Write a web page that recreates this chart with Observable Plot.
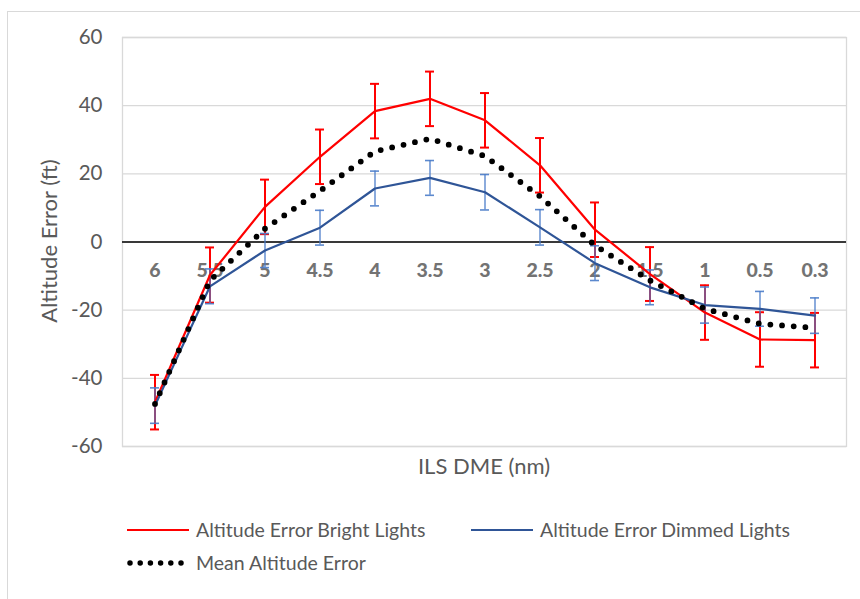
<!DOCTYPE html>
<html>
<head>
<meta charset="utf-8">
<script src="https://cdn.jsdelivr.net/npm/d3@7"></script>
<script src="https://cdn.jsdelivr.net/npm/@observablehq/plot@0.6"></script>
<style>
  html, body { margin: 0; padding: 0; background: #fff; }
  #chart { position: relative; width: 860px; height: 599px; overflow: hidden; font-family: Lato, "Open Sans", sans-serif; color: #595959; }
  #frame { position: absolute; left: 7px; top: 11px; width: 900px; height: 700px; border-left: 1px solid #d9d9d9; border-top: 1px solid #d9d9d9; box-sizing: border-box; }
  #plot { position: absolute; left: 0; top: 0; }
  .legend { position: absolute; font-size: 19.5px; color: #595959; white-space: nowrap; line-height: 1; }
  .legend svg { position: absolute; }
</style>
</head>
<body>
<div id="chart">
  <div id="frame"></div>
  <div id="plot"></div>
</div>
<script>
// ---- data ----
const categories = ["6", "5.5", "5", "4.5", "4", "3.5", "3", "2.5", "2", "1.5", "1", "0.5", "0.3"];
const brightValues = [-47.0, -9.7, 10.3, 25.0, 38.4, 42.0, 35.7, 22.5, 3.6, -9.4, -20.7, -28.6, -28.8];
const brightErrors = [8.0, 8.1, 8.0, 8.0, 8.0, 8.0, 8.0, 8.0, 8.0, 7.9, 8.0, 8.0, 8.0];
const dimmedValues = [-48.0, -13.0, -2.5, 4.2, 15.7, 18.8, 14.6, 4.3, -6.2, -13.3, -18.5, -19.6, -21.6];
const dimmedErrors = [5.2, 5.1, 5.0, 5.1, 5.1, 5.1, 5.2, 5.2, 5.1, 5.1, 5.3, 5.1, 5.2];
const meanValues = [-47.5, -11.3, 3.9, 15.0, 26.6, 30.3, 25.2, 13.4, -1.0, -11.3, -19.6, -24.0, -25.2];
const yTicks = [-60, -40, -20, 0, 20, 40, 60];

const seriesNames = ["Altitude Error Bright Lights", "Altitude Error Dimmed Lights", "Mean Altitude Error"];
const colors = { bright: "#ff0000", dimmed: "#2f5597", dimmedErr: "#4a7cc9", mean: "#000000" };

const bright = categories.map((c, i) => ({ cat: c, v: brightValues[i], lo: brightValues[i] - brightErrors[i], hi: brightValues[i] + brightErrors[i] }));
const dimmed = categories.map((c, i) => ({ cat: c, v: dimmedValues[i], lo: dimmedValues[i] - dimmedErrors[i], hi: dimmedValues[i] + dimmedErrors[i] }));
const mean = categories.map((c, i) => ({ cat: c, v: meanValues[i] }));
const axisRow = categories.map(c => ({ cat: c, v: 0 }));

const capInset = 23;

const plot = Plot.plot({
  width: 860,
  height: 500,
  marginLeft: 122,
  marginRight: 14,
  marginTop: 37,
  marginBottom: 54,
  style: { fontFamily: "Lato, 'Open Sans', sans-serif", background: "transparent" },
  x: { type: "band", domain: categories, padding: 0, axis: null },
  y: { domain: [-60, 60], ticks: yTicks, axis: null },
  marks: [
    Plot.gridY(yTicks, { stroke: "#d9d9d9", strokeOpacity: 1, strokeWidth: 1.3 }),
    Plot.frame({ stroke: "#d9d9d9", strokeWidth: 1.3 }),
    Plot.axisY(yTicks, { tickSize: 0, tickPadding: 20, fontSize: 20.5, fill: "#595959", label: null, tickFormat: d => d }),
    Plot.ruleY([0], { stroke: "#000", strokeWidth: 1.5 }),
    Plot.text(axisRow, { x: "cat", y: "v", text: "cat", dy: 29, fontSize: 19.5, fontWeight: 900, fill: "#737373" }),
    // bright error bars
    Plot.ruleX(bright, { x: "cat", y1: "lo", y2: "hi", stroke: colors.bright, strokeWidth: 2 }),
    Plot.tickY(bright, { x: "cat", y: "lo", stroke: colors.bright, strokeWidth: 2, insetLeft: capInset, insetRight: capInset }),
    Plot.tickY(bright, { x: "cat", y: "hi", stroke: colors.bright, strokeWidth: 2, insetLeft: capInset, insetRight: capInset }),
    // dimmed error bars
    Plot.ruleX(dimmed, { x: "cat", y1: "lo", y2: "hi", stroke: colors.dimmedErr, strokeWidth: 1.6, strokeOpacity: 0.8 }),
    Plot.tickY(dimmed, { x: "cat", y: "lo", stroke: colors.dimmedErr, strokeWidth: 1.6, strokeOpacity: 0.9, insetLeft: capInset, insetRight: capInset }),
    Plot.tickY(dimmed, { x: "cat", y: "hi", stroke: colors.dimmedErr, strokeWidth: 1.6, strokeOpacity: 0.9, insetLeft: capInset, insetRight: capInset }),
    // lines
    Plot.line(bright, { x: "cat", y: "v", stroke: colors.bright, strokeWidth: 2.2 }),
    Plot.line(dimmed, { x: "cat", y: "v", stroke: colors.dimmed, strokeWidth: 2.2 }),
    Plot.line(mean, { x: "cat", y: "v", stroke: colors.mean, strokeWidth: 5.8, strokeDasharray: "0 11.7", strokeLinecap: "round" })
  ]
});

document.getElementById("plot").appendChild(plot);

// axis titles
const svg = d3.select(plot);
svg.append("text")
  .attr("transform", "translate(48,241) rotate(-90)")
  .attr("text-anchor", "middle")
  .attr("dominant-baseline", "central")
  .attr("fill", "#595959")
  .style("font-size", "22px")
  .text("Altitude Error (ft)");
svg.append("text")
  .attr("x", 484).attr("y", 465)
  .attr("text-anchor", "middle")
  .attr("dominant-baseline", "central")
  .attr("fill", "#595959")
  .style("font-size", "22px")
  .text("ILS DME (nm)");

// legend (HTML below the plot)
const chart = document.getElementById("chart");
const legendItems = [
  { name: seriesNames[0], color: colors.bright, dash: null, width: 2.2, left: 127, top: 530 },
  { name: seriesNames[1], color: colors.dimmed, dash: null, width: 2.2, left: 471, top: 530 },
  { name: seriesNames[2], color: colors.mean, dash: "0 10.2", width: 5.5, left: 127, top: 563 }
];
for (const it of legendItems) {
  const d = document.createElement("div");
  d.className = "legend";
  d.style.left = it.left + "px";
  d.style.top = (it.top - 12) + "px";
  d.style.height = "24px";
  const sw = d3.create("svg").attr("width", 64).attr("height", 24).style("left", "0px").style("top", "0px");
  sw.append("line").attr("x1", it.dash ? 3 : 0).attr("x2", 62).attr("y1", 12).attr("y2", 12)
    .attr("stroke", it.color).attr("stroke-width", it.width)
    .attr("stroke-linecap", it.dash ? "round" : "butt")
    .attr("stroke-dasharray", it.dash);
  d.appendChild(sw.node());
  const t = document.createElement("span");
  t.textContent = it.name;
  t.style.position = "absolute";
  t.style.left = "69px";
  t.style.top = "2px";
  d.appendChild(t);
  chart.appendChild(d);
}
</script>
</body>
</html>
